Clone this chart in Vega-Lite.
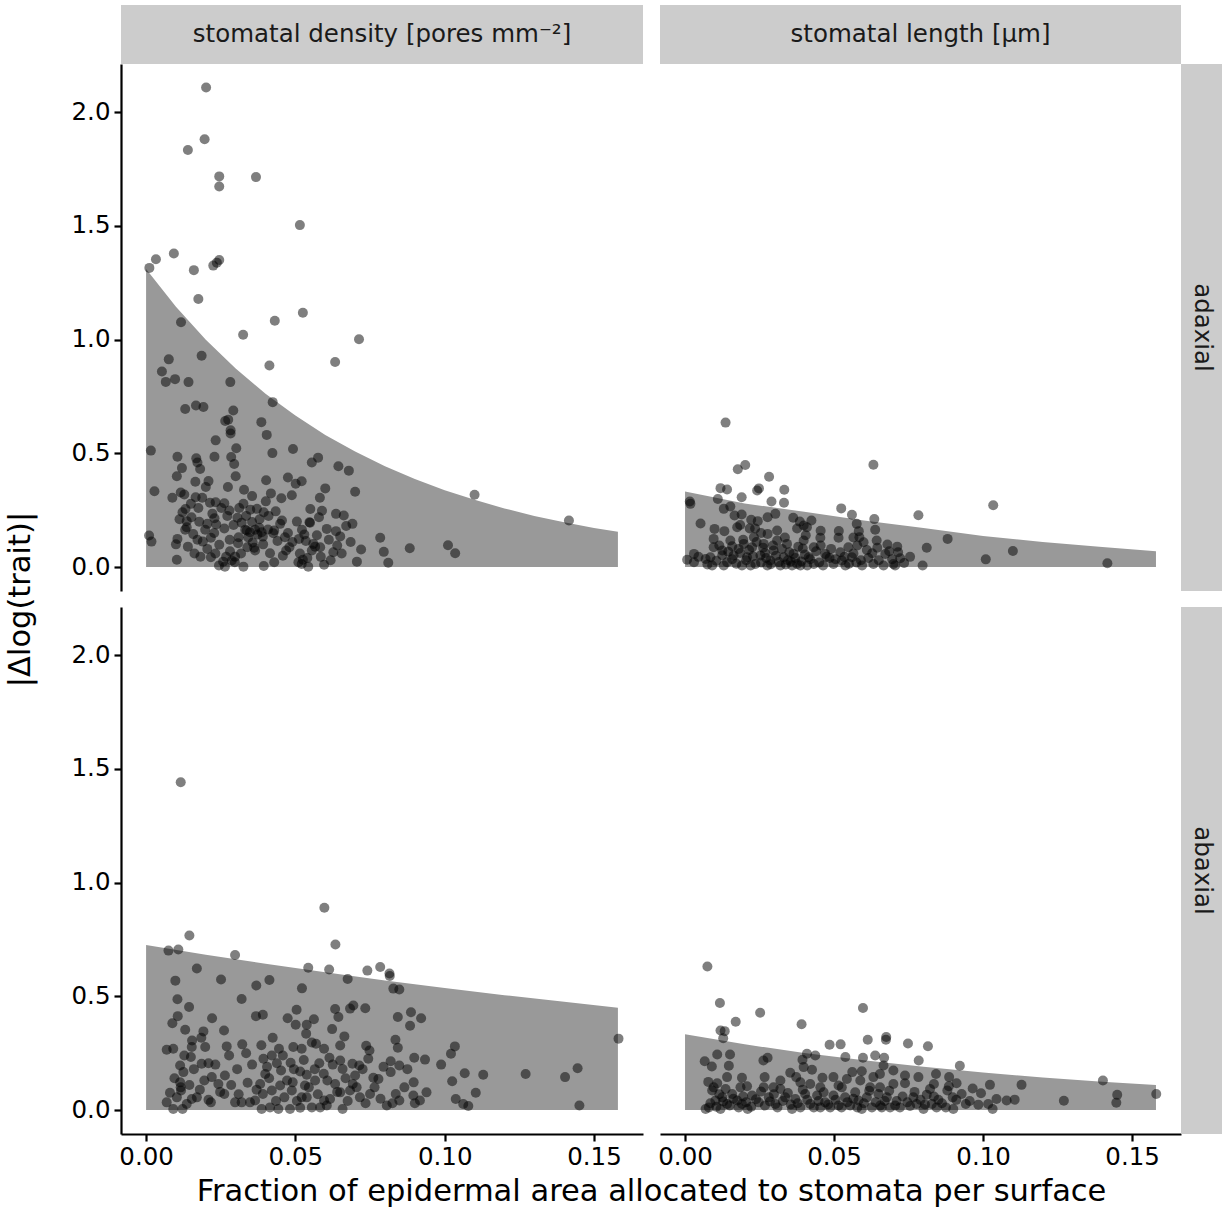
{
"$schema":"https://vega.github.io/schema/vega-lite/v6.json",
"background":"white",
"datasets":{
"pAd":[{"x":0.0201,"y":2.108},{"x":0.0196,"y":1.88},{"x":0.014,"y":1.833},{"x":0.0245,"y":1.717},{"x":0.0245,"y":1.673},{"x":0.0368,"y":1.714},{"x":0.0515,"y":1.503},{"x":0.0011,"y":1.315},{"x":0.0033,"y":1.353},{"x":0.0093,"y":1.378},{"x":0.016,"y":1.305},{"x":0.0225,"y":1.325},{"x":0.0245,"y":1.35},{"x":0.0237,"y":1.338},{"x":0.0175,"y":1.178},{"x":0.0117,"y":1.076},{"x":0.0325,"y":1.021},{"x":0.0431,"y":1.083},{"x":0.0525,"y":1.118},{"x":0.0713,"y":1.001},
{"x":0.0076,"y":0.913},{"x":0.0186,"y":0.929},{"x":0.0413,"y":0.886},{"x":0.0633,"y":0.901},{"x":0.0053,"y":0.86},{"x":0.0066,"y":0.814},{"x":0.0097,"y":0.826},{"x":0.0142,"y":0.813},{"x":0.0282,"y":0.813},{"x":0.0424,"y":0.725},{"x":0.0131,"y":0.695},{"x":0.0167,"y":0.71},{"x":0.0192,"y":0.704},{"x":0.0292,"y":0.688},{"x":0.0265,"y":0.642},{"x":0.0275,"y":0.648},{"x":0.0386,"y":0.637},{"x":0.0283,"y":0.601},{"x":0.0283,"y":0.587},{"x":0.0404,"y":0.581},{"x":0.0233,"y":0.557},{"x":0.0016,"y":0.512},{"x":0.0302,"y":0.522},{"x":0.0492,"y":0.519},{"x":0.0423,"y":0.501},{"x":0.0105,"y":0.485},{"x":0.0168,"y":0.478},{"x":0.0172,"y":0.46},{"x":0.0229,"y":0.485},{"x":0.0285,"y":0.484},{"x":0.0295,"y":0.453},{"x":0.0576,"y":0.481},{"x":0.0555,"y":0.46},{"x":0.012,"y":0.435},{"x":0.0181,"y":0.431},{"x":0.0644,"y":0.443},{"x":0.0679,"y":0.424},{"x":0.0103,"y":0.399},{"x":0.03,"y":0.399},{"x":0.0402,"y":0.382},{"x":0.0475,"y":0.394},{"x":0.0501,"y":0.366},{"x":0.0521,"y":0.377},{"x":0.0165,"y":0.375},{"x":0.0209,"y":0.378},{"x":0.02,"y":0.352},{"x":0.0028,"y":0.333},{"x":0.0116,"y":0.328},{"x":0.0128,"y":0.319},{"x":0.0088,"y":0.305},{"x":0.0166,"y":0.307},{"x":0.0274,"y":0.352},{"x":0.0328,"y":0.34},{"x":0.0355,"y":0.312},{"x":0.0418,"y":0.324},{"x":0.0453,"y":0.303},{"x":0.0488,"y":0.316},{"x":0.06,"y":0.346},{"x":0.0582,"y":0.305},{"x":0.07,"y":0.331},{"x":0.11,"y":0.318},{"x":0.1416,"y":0.205},{"x":0.015,"y":0.278},{"x":0.0122,"y":0.241},{"x":0.0214,"y":0.283},{"x":0.0233,"y":0.285},{"x":0.0262,"y":0.281},{"x":0.0326,"y":0.278},{"x":0.0349,"y":0.252},{"x":0.0401,"y":0.289},{"x":0.0279,"y":0.249},{"x":0.0434,"y":0.245},{"x":0.0371,"y":0.256},{"x":0.0394,"y":0.241},{"x":0.055,"y":0.255},{"x":0.0589,"y":0.248},{"x":0.0636,"y":0.234},{"x":0.0662,"y":0.227},{"x":0.0152,"y":0.219},{"x":0.0178,"y":0.199},{"x":0.0229,"y":0.215},{"x":0.0235,"y":0.187},{"x":0.0306,"y":0.217},{"x":0.0449,"y":0.19},{"x":0.0547,"y":0.197},{"x":0.0579,"y":0.219},{"x":0.067,"y":0.181},{"x":0.0691,"y":0.19},{"x":0.0136,"y":0.175},{"x":0.0131,"y":0.164},{"x":0.0198,"y":0.164},{"x":0.0332,"y":0.164},{"x":0.0365,"y":0.164},{"x":0.0379,"y":0.173},{"x":0.0429,"y":0.161},{"x":0.0522,"y":0.164},{"x":0.0549,"y":0.195},{"x":0.0605,"y":0.168},{"x":0.0636,"y":0.158},{"x":0.0784,"y":0.129},{"x":0.001,"y":0.139},{"x":0.0018,"y":0.112},{"x":0.0105,"y":0.124},{"x":0.01,"y":0.1},{"x":0.014,"y":0.09},{"x":0.0172,"y":0.12},{"x":0.019,"y":0.112},{"x":0.0217,"y":0.129},{"x":0.0245,"y":0.098},{"x":0.028,"y":0.12},{"x":0.031,"y":0.131},{"x":0.0337,"y":0.161},{"x":0.0357,"y":0.108},{"x":0.0391,"y":0.134},{"x":0.0426,"y":0.149},{"x":0.0465,"y":0.131},{"x":0.0512,"y":0.124},{"x":0.053,"y":0.143},{"x":0.056,"y":0.102},{"x":0.0583,"y":0.087},{"x":0.064,"y":0.095},{"x":0.0627,"y":0.065},{"x":0.072,"y":0.077},{"x":0.0796,"y":0.067},{"x":0.0883,"y":0.083},{"x":0.1011,"y":0.096},{"x":0.1035,"y":0.061},{"x":0.0103,"y":0.032},{"x":0.0182,"y":0.046},{"x":0.0217,"y":0.043},{"x":0.0244,"y":0.007},{"x":0.0264,"y":0.002},{"x":0.0281,"y":0.07},{"x":0.0287,"y":0.029},{"x":0.0297,"y":0.021},{"x":0.0326,"y":0.002},{"x":0.0339,"y":0.087},{"x":0.0365,"y":0.073},{"x":0.0394,"y":0.005},{"x":0.0415,"y":0.061},{"x":0.0429,"y":0.021},{"x":0.0469,"y":0.073},{"x":0.048,"y":0.087},{"x":0.051,"y":0.021},{"x":0.0525,"y":0.032},{"x":0.0543,"y":0.002},{"x":0.0555,"y":0.073},{"x":0.0596,"y":0.01},{"x":0.0706,"y":0.024},{"x":0.0811,"y":0.019},{"x":0.0566,"y":0.09},{"x":0.0348,"y":0.153},{"x":0.0387,"y":0.153},{"x":0.0373,"y":0.143},{"x":0.0521,"y":0.014},{"x":0.0308,"y":0.105},{"x":0.0258,"y":0.024},{"x":0.0298,"y":0.046},{"x":0.0136,"y":0.202},
{"x":0.0112,"y":0.21},{"x":0.0132,"y":0.255},{"x":0.0158,"y":0.145},{"x":0.0175,"y":0.26},{"x":0.0188,"y":0.305},{"x":0.0205,"y":0.19},{"x":0.0222,"y":0.235},{"x":0.0228,"y":0.15},{"x":0.0252,"y":0.26},{"x":0.0262,"y":0.17},{"x":0.0272,"y":0.225},{"x":0.0293,"y":0.185},{"x":0.0312,"y":0.26},{"x":0.032,"y":0.195},{"x":0.0335,"y":0.225},{"x":0.0342,"y":0.13},{"x":0.0355,"y":0.198},{"x":0.0362,"y":0.085},{"x":0.038,"y":0.21},{"x":0.0392,"y":0.1},{"x":0.0408,"y":0.165},{"x":0.041,"y":0.225},{"x":0.044,"y":0.115},{"x":0.0455,"y":0.205},{"x":0.0458,"y":0.05},{"x":0.0475,"y":0.15},{"x":0.049,"y":0.11},{"x":0.0505,"y":0.2},{"x":0.0515,"y":0.06},{"x":0.0535,"y":0.115},{"x":0.054,"y":0.04},{"x":0.0572,"y":0.14},{"x":0.0585,"y":0.045},{"x":0.0612,"y":0.12},{"x":0.0618,"y":0.03},{"x":0.065,"y":0.135},{"x":0.0655,"y":0.06},{"x":0.0685,"y":0.11},{"x":0.0162,"y":0.06},{"x":0.0205,"y":0.08},{"x":0.0232,"y":0.06},{"x":0.0268,"y":0.045},{"x":0.0318,"y":0.06}],
"pAl":[{"x":0.0136,"y":0.635},{"x":0.0177,"y":0.43},{"x":0.0202,"y":0.449},{"x":0.0282,"y":0.397},{"x":0.0632,"y":0.45},{"x":0.1034,"y":0.272},{"x":0.0119,"y":0.347},{"x":0.0141,"y":0.341},{"x":0.0242,"y":0.337},{"x":0.0248,"y":0.346},{"x":0.0333,"y":0.34},{"x":0.019,"y":0.307},{"x":0.029,"y":0.288},{"x":0.0332,"y":0.283},{"x":0.0016,"y":0.288},{"x":0.0018,"y":0.278},{"x":0.011,"y":0.299},{"x":0.013,"y":0.256},{"x":0.0152,"y":0.266},{"x":0.0166,"y":0.227},{"x":0.019,"y":0.231},{"x":0.0222,"y":0.208},{"x":0.0244,"y":0.202},{"x":0.0277,"y":0.219},{"x":0.0303,"y":0.234},{"x":0.0363,"y":0.217},{"x":0.0524,"y":0.258},{"x":0.056,"y":0.23},{"x":0.0635,"y":0.211},{"x":0.0783,"y":0.228},{"x":0.0052,"y":0.192},{"x":0.0099,"y":0.168},{"x":0.0132,"y":0.158},{"x":0.0175,"y":0.175},{"x":0.0217,"y":0.17},{"x":0.0277,"y":0.146},{"x":0.0309,"y":0.161},{"x":0.0376,"y":0.17},{"x":0.0398,"y":0.183},{"x":0.0424,"y":0.205},{"x":0.0409,"y":0.175},{"x":0.0516,"y":0.159},{"x":0.0576,"y":0.19},{"x":0.0583,"y":0.158},{"x":0.0638,"y":0.164},{"x":0.0454,"y":0.129},{"x":0.0515,"y":0.129},{"x":0.0599,"y":0.109},{"x":0.0643,"y":0.117},{"x":0.0679,"y":0.099},{"x":0.0712,"y":0.09},{"x":0.0811,"y":0.085},{"x":0.0881,"y":0.124},{"x":0.11,"y":0.071},{"x":0.1009,"y":0.034},{"x":0.1417,"y":0.017},{"x":0.0797,"y":0.007},{"x":0.0722,"y":0.039},{"x":0.0699,"y":0.014},{"x":0.0666,"y":0.007},{"x":0.0632,"y":0.014},{"x":0.0672,"y":0.058},{"x":0.0628,"y":0.061},{"x":0.0594,"y":0.007},{"x":0.056,"y":0.043},{"x":0.0548,"y":0.087},{"x":0.0526,"y":0.029},{"x":0.0521,"y":0.065},{"x":0.0498,"y":0.014},{"x":0.047,"y":0.058},{"x":0.0463,"y":0.007},{"x":0.0432,"y":0.087},{"x":0.0415,"y":0.043},{"x":0.0387,"y":0.007},{"x":0.0376,"y":0.014},{"x":0.0359,"y":0.007},{"x":0.0364,"y":0.058},{"x":0.0342,"y":0.102},{"x":0.0331,"y":0.043},{"x":0.032,"y":0.007},{"x":0.0297,"y":0.073},{"x":0.0286,"y":0.029},{"x":0.0264,"y":0.102},{"x":0.0253,"y":0.051},{"x":0.0236,"y":0.014},{"x":0.0225,"y":0.087},{"x":0.0208,"y":0.043},{"x":0.0191,"y":0.007},{"x":0.018,"y":0.08},{"x":0.0163,"y":0.051},{"x":0.0141,"y":0.021},{"x":0.013,"y":0.007},{"x":0.0125,"y":0.073},{"x":0.0096,"y":0.124},{"x":0.0096,"y":0.087},{"x":0.0085,"y":0.043},{"x":0.0091,"y":0.007},{"x":0.0069,"y":0.036},{"x":0.003,"y":0.058},{"x":0.0007,"y":0.032},{"x":0.003,"y":0.021},{"x":0.0152,"y":0.117},{"x":0.0197,"y":0.102},{"x":0.0231,"y":0.131},{"x":0.0309,"y":0.117},{"x":0.0398,"y":0.117},{"x":0.0432,"y":0.014},{"x":0.022,"y":0.007},{"x":0.0276,"y":0.007},{"x":0.041,"y":0.007},{"x":0.0538,"y":0.007},{"x":0.0705,"y":0.007},{"x":0.0585,"y":0.131},{"x":0.0345,"y":0.03},{"x":0.0485,"y":0.04},{"x":0.0575,"y":0.02},{"x":0.0268,"y":0.062},{"x":0.0395,"y":0.082},{"x":0.0455,"y":0.095},{"x":0.0158,"y":0.092},
{"x":0.0045,"y":0.045},{"x":0.0075,"y":0.012},{"x":0.0105,"y":0.028},{"x":0.0115,"y":0.095},{"x":0.0125,"y":0.052},{"x":0.0145,"y":0.068},{"x":0.0158,"y":0.035},{"x":0.0172,"y":0.015},{"x":0.0185,"y":0.062},{"x":0.0195,"y":0.12},{"x":0.0205,"y":0.03},{"x":0.0215,"y":0.075},{"x":0.0228,"y":0.048},{"x":0.024,"y":0.11},{"x":0.0255,"y":0.02},{"x":0.0262,"y":0.085},{"x":0.0272,"y":0.04},{"x":0.0288,"y":0.013},{"x":0.0295,"y":0.095},{"x":0.0305,"y":0.05},{"x":0.0315,"y":0.022},{"x":0.0325,"y":0.08},{"x":0.0338,"y":0.012},{"x":0.035,"y":0.065},{"x":0.0355,"y":0.025},{"x":0.037,"y":0.04},{"x":0.038,"y":0.09},{"x":0.039,"y":0.025},{"x":0.0402,"y":0.055},{"x":0.042,"y":0.035},{"x":0.044,"y":0.07},{"x":0.045,"y":0.02},{"x":0.0475,"y":0.045},{"x":0.049,"y":0.08},{"x":0.0505,"y":0.035},{"x":0.0535,"y":0.045},{"x":0.055,"y":0.015},{"x":0.0565,"y":0.06},{"x":0.0578,"y":0.095},{"x":0.059,"y":0.03},{"x":0.061,"y":0.075},{"x":0.0615,"y":0.04},{"x":0.0645,"y":0.085},{"x":0.065,"y":0.03},{"x":0.0685,"y":0.07},{"x":0.0695,"y":0.035},{"x":0.0715,"y":0.065},{"x":0.0735,"y":0.018},{"x":0.0755,"y":0.045},{"x":0.0405,"y":0.14},{"x":0.0335,"y":0.13},{"x":0.0255,"y":0.15},{"x":0.0455,"y":0.16},{"x":0.0565,"y":0.13},{"x":0.0185,"y":0.185},{"x":0.0235,"y":0.17},{"x":0.0385,"y":0.2}],
"pBd":[{"x":0.0116,"y":1.441},{"x":0.0597,"y":0.889},{"x":0.0145,"y":0.767},{"x":0.0634,"y":0.728},{"x":0.0075,"y":0.701},{"x":0.0108,"y":0.706},{"x":0.0298,"y":0.682},{"x":0.017,"y":0.622},{"x":0.0543,"y":0.626},{"x":0.0613,"y":0.618},{"x":0.0741,"y":0.613},{"x":0.0784,"y":0.629},{"x":0.0815,"y":0.6},{"x":0.0816,"y":0.589},{"x":0.0675,"y":0.576},{"x":0.0098,"y":0.569},{"x":0.0251,"y":0.574},{"x":0.0413,"y":0.572},{"x":0.0369,"y":0.548},{"x":0.0522,"y":0.535},{"x":0.0828,"y":0.534},{"x":0.0848,"y":0.53},{"x":0.0105,"y":0.487},{"x":0.032,"y":0.488},{"x":0.0144,"y":0.453},{"x":0.0106,"y":0.413},{"x":0.0088,"y":0.382},{"x":0.0131,"y":0.353},{"x":0.0221,"y":0.404},{"x":0.0261,"y":0.35},{"x":0.0192,"y":0.346},{"x":0.0368,"y":0.413},{"x":0.0391,"y":0.419},{"x":0.0474,"y":0.404},{"x":0.0504,"y":0.441},{"x":0.0501,"y":0.375},{"x":0.0538,"y":0.375},{"x":0.0562,"y":0.399},{"x":0.0633,"y":0.444},{"x":0.0683,"y":0.446},{"x":0.0694,"y":0.46},{"x":0.0734,"y":0.448},{"x":0.0644,"y":0.409},{"x":0.0623,"y":0.356},{"x":0.0536,"y":0.336},{"x":0.0843,"y":0.409},{"x":0.0887,"y":0.43},{"x":0.0921,"y":0.404},{"x":0.0884,"y":0.371},{"x":0.0424,"y":0.318},{"x":0.0154,"y":0.306},{"x":0.0185,"y":0.318},{"x":0.0069,"y":0.265},{"x":0.0091,"y":0.27},{"x":0.0153,"y":0.277},{"x":0.0198,"y":0.277},{"x":0.027,"y":0.28},{"x":0.0322,"y":0.289},{"x":0.0386,"y":0.285},{"x":0.0493,"y":0.277},{"x":0.0521,"y":0.27},{"x":0.0555,"y":0.297},{"x":0.0569,"y":0.292},{"x":0.0596,"y":0.27},{"x":0.0664,"y":0.324},{"x":0.065,"y":0.284},{"x":0.0737,"y":0.283},{"x":0.0748,"y":0.262},{"x":0.0835,"y":0.309},{"x":0.0843,"y":0.274},{"x":0.1034,"y":0.28},{"x":0.1021,"y":0.248},{"x":0.1582,"y":0.314},{"x":0.015,"y":0.233},{"x":0.0186,"y":0.204},{"x":0.0209,"y":0.206},{"x":0.0114,"y":0.196},{"x":0.0125,"y":0.167},{"x":0.0393,"y":0.226},{"x":0.0421,"y":0.24},{"x":0.0458,"y":0.24},{"x":0.0438,"y":0.206},{"x":0.0484,"y":0.208},{"x":0.0452,"y":0.174},{"x":0.0516,"y":0.17},{"x":0.0538,"y":0.155},{"x":0.058,"y":0.206},{"x":0.0614,"y":0.23},{"x":0.065,"y":0.218},{"x":0.0658,"y":0.181},{"x":0.0691,"y":0.204},{"x":0.0714,"y":0.196},{"x":0.0744,"y":0.226},{"x":0.07,"y":0.152},{"x":0.0761,"y":0.142},{"x":0.0778,"y":0.137},{"x":0.0819,"y":0.215},{"x":0.0848,"y":0.196},{"x":0.0819,"y":0.167},{"x":0.0898,"y":0.23},{"x":0.0934,"y":0.222},{"x":0.0988,"y":0.2},{"x":0.1067,"y":0.162},{"x":0.1129,"y":0.155},{"x":0.1271,"y":0.159},{"x":0.1403,"y":0.145},{"x":0.1445,"y":0.184},{"x":0.1451,"y":0.02},{"x":0.1025,"y":0.127},{"x":0.0896,"y":0.122},{"x":0.1104,"y":0.076},{"x":0.1037,"y":0.049},{"x":0.1079,"y":0.018},{"x":0.1062,"y":0.027},{"x":0.0939,"y":0.078},{"x":0.0917,"y":0.042},{"x":0.09,"y":0.03},{"x":0.0806,"y":0.02},{"x":0.0836,"y":0.071},{"x":0.0848,"y":0.042},{"x":0.0895,"y":0.064},{"x":0.075,"y":0.071},{"x":0.0716,"y":0.056},{"x":0.0692,"y":0.115},{"x":0.0683,"y":0.086},{"x":0.0658,"y":0.005},{"x":0.065,"y":0.078},{"x":0.0633,"y":0.115},{"x":0.0616,"y":0.049},{"x":0.0596,"y":0.042},{"x":0.0583,"y":0.012},{"x":0.0607,"y":0.13},{"x":0.0555,"y":0.012},{"x":0.0521,"y":0.056},{"x":0.0516,"y":0.01},{"x":0.0488,"y":0.086},{"x":0.0491,"y":0.122},{"x":0.0482,"y":0.005},{"x":0.0463,"y":0.056},{"x":0.0449,"y":0.108},{"x":0.0443,"y":0.005},{"x":0.0421,"y":0.086},{"x":0.0415,"y":0.012},{"x":0.0399,"y":0.159},{"x":0.0382,"y":0.115},{"x":0.0391,"y":0.071},{"x":0.0387,"y":0.005},{"x":0.0365,"y":0.042},{"x":0.0348,"y":0.034},{"x":0.032,"y":0.034},{"x":0.0298,"y":0.034},{"x":0.0262,"y":0.071},{"x":0.0264,"y":0.152},{"x":0.0242,"y":0.115},{"x":0.022,"y":0.145},{"x":0.0217,"y":0.034},{"x":0.0209,"y":0.045},{"x":0.017,"y":0.056},{"x":0.0153,"y":0.049},{"x":0.0136,"y":0.027},{"x":0.0122,"y":0.005},{"x":0.0091,"y":0.005},{"x":0.0069,"y":0.034},{"x":0.008,"y":0.076},{"x":0.0117,"y":0.086},{"x":0.0114,"y":0.122},{"x":0.0116,"y":0.1},{"x":0.0103,"y":0.056},{"x":0.0538,"y":0.056},{"x":0.0566,"y":0.13},{"x":0.0532,"y":0.108},
{"x":0.0095,"y":0.14},{"x":0.0128,"y":0.24},{"x":0.0145,"y":0.11},{"x":0.016,"y":0.18},{"x":0.018,"y":0.09},{"x":0.0195,"y":0.13},{"x":0.0232,"y":0.2},{"x":0.0248,"y":0.08},{"x":0.0278,"y":0.24},{"x":0.0285,"y":0.11},{"x":0.0305,"y":0.18},{"x":0.031,"y":0.07},{"x":0.0335,"y":0.25},{"x":0.034,"y":0.12},{"x":0.0355,"y":0.2},{"x":0.037,"y":0.09},{"x":0.0405,"y":0.19},{"x":0.0412,"y":0.14},{"x":0.0435,"y":0.04},{"x":0.0445,"y":0.27},{"x":0.0472,"y":0.13},{"x":0.0495,"y":0.18},{"x":0.0505,"y":0.04},{"x":0.0528,"y":0.22},{"x":0.0545,"y":0.1},{"x":0.0565,"y":0.18},{"x":0.0575,"y":0.07},{"x":0.0595,"y":0.16},{"x":0.0605,"y":0.02},{"x":0.0625,"y":0.2},{"x":0.064,"y":0.08},{"x":0.0668,"y":0.14},{"x":0.0675,"y":0.04},{"x":0.0705,"y":0.1},{"x":0.0725,"y":0.18},{"x":0.0735,"y":0.03},{"x":0.0765,"y":0.1},{"x":0.0785,"y":0.05},{"x":0.0795,"y":0.19},{"x":0.0825,"y":0.03},{"x":0.0865,"y":0.1},{"x":0.0875,"y":0.18}],
"pBl":[{"x":0.0075,"y":0.631},{"x":0.0117,"y":0.471},{"x":0.0252,"y":0.428},{"x":0.017,"y":0.388},{"x":0.0391,"y":0.377},{"x":0.0597,"y":0.449},{"x":0.0119,"y":0.35},{"x":0.0133,"y":0.347},{"x":0.0128,"y":0.316},{"x":0.0485,"y":0.287},{"x":0.0522,"y":0.289},{"x":0.0613,"y":0.309},{"x":0.0675,"y":0.321},{"x":0.0674,"y":0.309},{"x":0.0748,"y":0.293},{"x":0.0815,"y":0.281},{"x":0.0066,"y":0.215},{"x":0.009,"y":0.192},{"x":0.0108,"y":0.244},{"x":0.0151,"y":0.244},{"x":0.0147,"y":0.195},{"x":0.0263,"y":0.218},{"x":0.0277,"y":0.23},{"x":0.0409,"y":0.248},{"x":0.0437,"y":0.24},{"x":0.0394,"y":0.221},{"x":0.0538,"y":0.233},{"x":0.0597,"y":0.23},{"x":0.0638,"y":0.24},{"x":0.0668,"y":0.23},{"x":0.0784,"y":0.218},{"x":0.0922,"y":0.195},{"x":0.0666,"y":0.196},{"x":0.0398,"y":0.189},{"x":0.0353,"y":0.164},{"x":0.0426,"y":0.177},{"x":0.0561,"y":0.167},{"x":0.0593,"y":0.171},{"x":0.0699,"y":0.174},{"x":0.0078,"y":0.124},{"x":0.0108,"y":0.118},{"x":0.0141,"y":0.145},{"x":0.0191,"y":0.142},{"x":0.0208,"y":0.105},{"x":0.0267,"y":0.145},{"x":0.032,"y":0.13},{"x":0.0373,"y":0.145},{"x":0.0387,"y":0.122},{"x":0.0461,"y":0.142},{"x":0.0498,"y":0.145},{"x":0.0515,"y":0.108},{"x":0.0543,"y":0.137},{"x":0.0588,"y":0.13},{"x":0.0632,"y":0.145},{"x":0.0654,"y":0.159},{"x":0.0699,"y":0.115},{"x":0.0738,"y":0.152},{"x":0.0738,"y":0.118},{"x":0.0783,"y":0.145},{"x":0.0842,"y":0.159},{"x":0.0886,"y":0.145},{"x":0.0835,"y":0.115},{"x":0.0911,"y":0.118},{"x":0.1023,"y":0.111},{"x":0.1129,"y":0.111},{"x":0.1402,"y":0.13},{"x":0.145,"y":0.067},{"x":0.1447,"y":0.032},{"x":0.1581,"y":0.071},{"x":0.1271,"y":0.041},{"x":0.1106,"y":0.046},{"x":0.1079,"y":0.042},{"x":0.1045,"y":0.049},{"x":0.1017,"y":0.027},{"x":0.1032,"y":0.005},{"x":0.0993,"y":0.074},{"x":0.0984,"y":0.024},{"x":0.0942,"y":0.027},{"x":0.0928,"y":0.071},{"x":0.09,"y":0.005},{"x":0.0898,"y":0.056},{"x":0.088,"y":0.086},{"x":0.085,"y":0.045},{"x":0.0844,"y":0.012},{"x":0.0828,"y":0.027},{"x":0.0811,"y":0.068},{"x":0.08,"y":0.005},{"x":0.0777,"y":0.027},{"x":0.0766,"y":0.056},{"x":0.0746,"y":0.034},{"x":0.0721,"y":0.012},{"x":0.0705,"y":0.02},{"x":0.0688,"y":0.012},{"x":0.0677,"y":0.056},{"x":0.066,"y":0.012},{"x":0.0649,"y":0.071},{"x":0.0627,"y":0.012},{"x":0.061,"y":0.056},{"x":0.0593,"y":0.005},{"x":0.0582,"y":0.042},{"x":0.0571,"y":0.078},{"x":0.0554,"y":0.02},{"x":0.0537,"y":0.056},{"x":0.0526,"y":0.1},{"x":0.0515,"y":0.02},{"x":0.0498,"y":0.064},{"x":0.0487,"y":0.012},{"x":0.047,"y":0.034},{"x":0.0454,"y":0.012},{"x":0.0443,"y":0.064},{"x":0.042,"y":0.027},{"x":0.0403,"y":0.071},{"x":0.0387,"y":0.012},{"x":0.037,"y":0.049},{"x":0.0359,"y":0.005},{"x":0.0336,"y":0.056},{"x":0.032,"y":0.093},{"x":0.0303,"y":0.027},{"x":0.0281,"y":0.056},{"x":0.0264,"y":0.1},{"x":0.0247,"y":0.034},{"x":0.0225,"y":0.064},{"x":0.021,"y":0.005},{"x":0.0191,"y":0.027},{"x":0.0175,"y":0.042},{"x":0.0158,"y":0.071},{"x":0.0141,"y":0.027},{"x":0.0125,"y":0.056},{"x":0.0119,"y":0.005},{"x":0.0102,"y":0.042},{"x":0.0091,"y":0.086},{"x":0.008,"y":0.012},{"x":0.0069,"y":0.005},{"x":0.0096,"y":0.1},{"x":0.0136,"y":0.093},{"x":0.0186,"y":0.1},{"x":0.0297,"y":0.1},{"x":0.042,"y":0.115},{"x":0.0454,"y":0.1},{"x":0.0621,"y":0.1},{"x":0.0654,"y":0.1},{"x":0.0822,"y":0.093},
{"x":0.0085,"y":0.03},{"x":0.0105,"y":0.015},{"x":0.0115,"y":0.07},{"x":0.0128,"y":0.038},{"x":0.015,"y":0.02},{"x":0.0162,"y":0.05},{"x":0.018,"y":0.012},{"x":0.0195,"y":0.06},{"x":0.0205,"y":0.035},{"x":0.0222,"y":0.015},{"x":0.0238,"y":0.048},{"x":0.0255,"y":0.082},{"x":0.0268,"y":0.02},{"x":0.0285,"y":0.038},{"x":0.0298,"y":0.07},{"x":0.031,"y":0.012},{"x":0.0328,"y":0.04},{"x":0.0345,"y":0.075},{"x":0.0355,"y":0.025},{"x":0.0378,"y":0.03},{"x":0.0395,"y":0.09},{"x":0.041,"y":0.045},{"x":0.0432,"y":0.012},{"x":0.0448,"y":0.04},{"x":0.0465,"y":0.078},{"x":0.048,"y":0.025},{"x":0.0505,"y":0.045},{"x":0.0525,"y":0.012},{"x":0.0545,"y":0.035},{"x":0.0565,"y":0.05},{"x":0.0578,"y":0.012},{"x":0.06,"y":0.03},{"x":0.0618,"y":0.085},{"x":0.064,"y":0.035},{"x":0.0655,"y":0.02},{"x":0.067,"y":0.04},{"x":0.0685,"y":0.085},{"x":0.071,"y":0.04},{"x":0.073,"y":0.06},{"x":0.0755,"y":0.018},{"x":0.077,"y":0.08},{"x":0.079,"y":0.045},{"x":0.0805,"y":0.025},{"x":0.0835,"y":0.06},{"x":0.0862,"y":0.03},{"x":0.0875,"y":0.012},{"x":0.0885,"y":0.105},{"x":0.091,"y":0.045},{"x":0.0955,"y":0.04},{"x":0.0965,"y":0.095}],
"cAd":[{"x":0,"y":1.31},{"x":0.01,"y":1.144},{"x":0.02,"y":0.999},{"x":0.03,"y":0.873},{"x":0.04,"y":0.762},{"x":0.05,"y":0.666},{"x":0.06,"y":0.581},{"x":0.07,"y":0.508},{"x":0.08,"y":0.443},{"x":0.09,"y":0.387},{"x":0.1,"y":0.338},{"x":0.11,"y":0.296},{"x":0.12,"y":0.258},{"x":0.13,"y":0.225},{"x":0.14,"y":0.197},{"x":0.15,"y":0.172},{"x":0.158,"y":0.155}],
"cAl":[{"x":0,"y":0.332},{"x":0.02,"y":0.28},{"x":0.04,"y":0.243},{"x":0.06,"y":0.205},{"x":0.08,"y":0.172},{"x":0.1,"y":0.137},{"x":0.12,"y":0.11},{"x":0.14,"y":0.088},{"x":0.158,"y":0.07}],
"cBd":[{"x":0,"y":0.726},{"x":0.02,"y":0.683},{"x":0.04,"y":0.643},{"x":0.06,"y":0.606},{"x":0.08,"y":0.57},{"x":0.1,"y":0.537},{"x":0.12,"y":0.505},{"x":0.14,"y":0.476},{"x":0.158,"y":0.45}],
"cBl":[{"x":0,"y":0.333},{"x":0.02,"y":0.289},{"x":0.04,"y":0.251},{"x":0.06,"y":0.219},{"x":0.08,"y":0.19},{"x":0.1,"y":0.165},{"x":0.12,"y":0.143},{"x":0.14,"y":0.125},{"x":0.158,"y":0.11}]
},
"concat":[
{"width":522,"height":59,"view":{"fill":"#CCCCCC","stroke":null},"data":{"values":[{"label":"stomatal density [pores mm⁻²]"}]},"mark":{"type":"text","font":"DejaVu Sans","fontSize":24.5,"color":"#1A1A1A"},"encoding":{"text":{"field":"label"}}},
{"width":17,"height":59,"data":{"values":[]},"mark":"point"},
{"width":521,"height":59,"view":{"fill":"#CCCCCC","stroke":null},"data":{"values":[{"label":"stomatal length [μm]"}]},"mark":{"type":"text","font":"DejaVu Sans","fontSize":24.5,"color":"#1A1A1A"},"encoding":{"text":{"field":"label"}}},
{"width":41,"height":59,"data":{"values":[]},"mark":"point"},

{"width":522,"height":527,
 "encoding":{"x":{"field":"x","type":"quantitative","scale":{"domain":[-0.0084,0.1664],"nice":false,"zero":false},"axis":null},
   "y":{"field":"y","type":"quantitative","scale":{"domain":[-0.105,2.211],"nice":false,"zero":false},"axis":{"values":[0,0.5,1,1.5,2],"format":".1f","title":"|Δlog(trait)|","titleY":535,"titlePadding":36}}},
 "layer":[{"data":{"name":"cAd"},"mark":{"type":"area","color":"#999999","opacity":1},"encoding":{"y2":{"datum":0}}},
   {"data":{"name":"pAd"},"mark":{"type":"circle","color":"black","opacity":0.5,"size":100}}]},
{"width":17,"height":527,"data":{"values":[]},"mark":"point"},
{"width":521,"height":527,
 "encoding":{"x":{"field":"x","type":"quantitative","scale":{"domain":[-0.0084,0.1664],"nice":false,"zero":false},"axis":null},
   "y":{"field":"y","type":"quantitative","scale":{"domain":[-0.105,2.211],"nice":false,"zero":false},"axis":null}},
 "layer":[{"data":{"name":"cAl"},"mark":{"type":"area","color":"#999999","opacity":1},"encoding":{"y2":{"datum":0}}},
   {"data":{"name":"pAl"},"mark":{"type":"circle","color":"black","opacity":0.5,"size":100}}]},
{"width":41,"height":527,"view":{"fill":"#CCCCCC","stroke":null},"data":{"values":[{"label":"adaxial"}]},"mark":{"type":"text","font":"DejaVu Sans","fontSize":24.5,"color":"#1A1A1A","angle":90},"encoding":{"text":{"field":"label"}}},

{"width":522,"height":16,"data":{"values":[]},"mark":"point"},
{"width":17,"height":16,"data":{"values":[]},"mark":"point"},
{"width":521,"height":16,"data":{"values":[]},"mark":"point"},
{"width":41,"height":16,"data":{"values":[]},"mark":"point"},

{"width":522,"height":527,
 "encoding":{"x":{"field":"x","type":"quantitative","scale":{"domain":[-0.0084,0.1664],"nice":false,"zero":false},"axis":{"values":[0,0.05,0.1,0.15],"format":".2f","labelFlush":false,"title":"Fraction of epidermal area allocated to stomata per surface","titleX":530,"titlePadding":8}},
   "y":{"field":"y","type":"quantitative","scale":{"domain":[-0.105,2.211],"nice":false,"zero":false},"axis":{"values":[0,0.5,1,1.5,2],"format":".1f","title":null}}},
 "layer":[{"data":{"name":"cBd"},"mark":{"type":"area","color":"#999999","opacity":1},"encoding":{"y2":{"datum":0}}},
   {"data":{"name":"pBd"},"mark":{"type":"circle","color":"black","opacity":0.5,"size":100}}]},
{"width":17,"height":527,"data":{"values":[]},"mark":"point"},
{"width":521,"height":527,
 "encoding":{"x":{"field":"x","type":"quantitative","scale":{"domain":[-0.0084,0.1664],"nice":false,"zero":false},"axis":{"values":[0,0.05,0.1,0.15],"format":".2f","labelFlush":false,"title":null}},
   "y":{"field":"y","type":"quantitative","scale":{"domain":[-0.105,2.211],"nice":false,"zero":false},"axis":null}},
 "layer":[{"data":{"name":"cBl"},"mark":{"type":"area","color":"#999999","opacity":1},"encoding":{"y2":{"datum":0}}},
   {"data":{"name":"pBl"},"mark":{"type":"circle","color":"black","opacity":0.5,"size":100}}]},
{"width":41,"height":527,"view":{"fill":"#CCCCCC","stroke":null},"data":{"values":[{"label":"abaxial"}]},"mark":{"type":"text","font":"DejaVu Sans","fontSize":24.5,"color":"#1A1A1A","angle":90},"encoding":{"text":{"field":"label"}}}
],
"columns":4,
"spacing":0,
"align":"each",
"bounds":"flush",
"config":{
 "view":{"stroke":null},
 "font":"DejaVu Sans",
 "axis":{"grid":false,"domainColor":"black","domainWidth":2.2,"tickColor":"black","tickWidth":2.2,"tickSize":7,"labelFont":"DejaVu Sans","labelFontSize":24.5,"labelColor":"black","labelPadding":4,"titleFont":"DejaVu Sans","titleFontSize":30.5,"titleFontWeight":"normal","titleColor":"black"}
}
}
